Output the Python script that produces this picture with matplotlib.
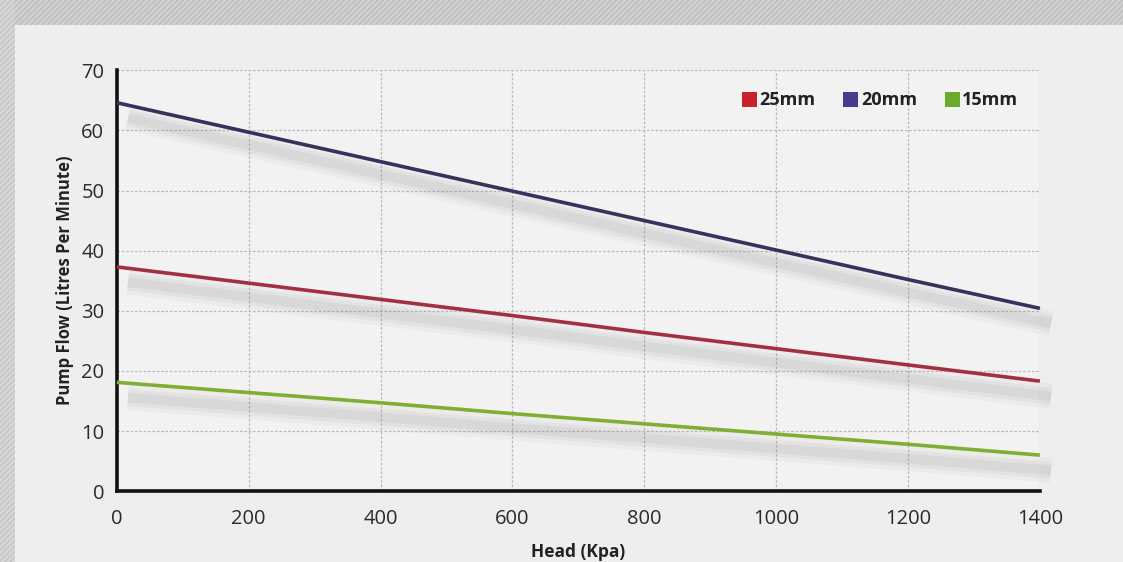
import matplotlib
matplotlib.use('Agg')
import matplotlib.pyplot as plt
import matplotlib.patheffects as pe
from matplotlib.patches import Rectangle

head = [0, 200, 400, 600, 800, 1000, 1200, 1400]
flow_25 = [37.3, 34.6, 31.9, 29.2, 26.4, 23.7, 21.0, 18.3]
flow_20 = [64.6, 59.7, 54.8, 49.9, 45.0, 40.1, 35.2, 30.4]
flow_15 = [18.1, 16.4, 14.7, 12.9, 11.2, 9.5, 7.8, 6.0]

series = [('25mm', flow_25, '#a3303f', '#c8232c'),
          ('20mm', flow_20, '#3b2f5e', '#4a3a8c'),
          ('15mm', flow_15, '#7fae35', '#6aab2e')]

plt.rcParams['font.family'] = ['Open Sans', 'DejaVu Sans']

fig = plt.figure(figsize=(11.23, 5.62), dpi=100)
fig.patch.set_facecolor('#eeeeee')

# scanned frame bands
fig.patches.append(Rectangle((0, 0.955), 1, 0.045, transform=fig.transFigure,
                             facecolor='#d2d0d0', edgecolor='#bdbbbb', hatch='//////', lw=0, zorder=-5))
fig.patches.append(Rectangle((0, 0), 0.013, 1, transform=fig.transFigure,
                             facecolor='#d8d6d6', edgecolor='#c4c2c2', hatch='//////', lw=0, zorder=-5))

ax = fig.add_axes([0.104, 0.126, 0.822, 0.749])
ax.set_facecolor('#f2f2f2')

for name, vals, col, legcol in series:
    shadow = [pe.SimpleLineShadow(offset=(8, -11), shadow_color='#777777', alpha=a, linewidth=w)
              for a, w in [(0.05, 18), (0.07, 12), (0.09, 7)]]
    ax.plot(head, vals, color=col, lw=2.6, solid_capstyle='butt', zorder=3,
            path_effects=shadow + [pe.Normal()], clip_on=False)

ax.set_xlim(0, 1400)
ax.set_ylim(0, 70)
ax.set_xticks(head)
ax.set_yticks(range(0, 71, 10))
ax.grid(True, color='#b8b8b8', ls=(0, (2, 1.5)), lw=0.9)
ax.set_axisbelow(True)

for s in ['top', 'right']:
    ax.spines[s].set_visible(False)
for s in ['left', 'bottom']:
    ax.spines[s].set_linewidth(2.6)
    ax.spines[s].set_color('#111111')

ax.tick_params(length=0, labelsize=14.5, colors='#2a2a2a')
ax.tick_params(axis='x', pad=13)
ax.tick_params(axis='y', pad=9)
ax.set_xlabel('Head (Kpa)', fontsize=12.5, fontweight='bold', color='#222222', labelpad=10)
ax.set_ylabel('Pump Flow (Litres Per Minute)', fontsize=12, fontweight='bold', color='#222222', labelpad=5)

# legend
lx = [0.677, 0.787, 0.897]
for (name, vals, col, legcol), x in zip(series, lx):
    ax.add_patch(Rectangle((x, 0.912), 0.0163, 0.036, transform=ax.transAxes,
                           facecolor=legcol, edgecolor='none', zorder=4))
    ax.text(x + 0.019, 0.929, name, transform=ax.transAxes, fontsize=13,
            fontweight='bold', color='#222222', va='center', ha='left')

fig.savefig('out.png', dpi=100, facecolor=fig.get_facecolor())
